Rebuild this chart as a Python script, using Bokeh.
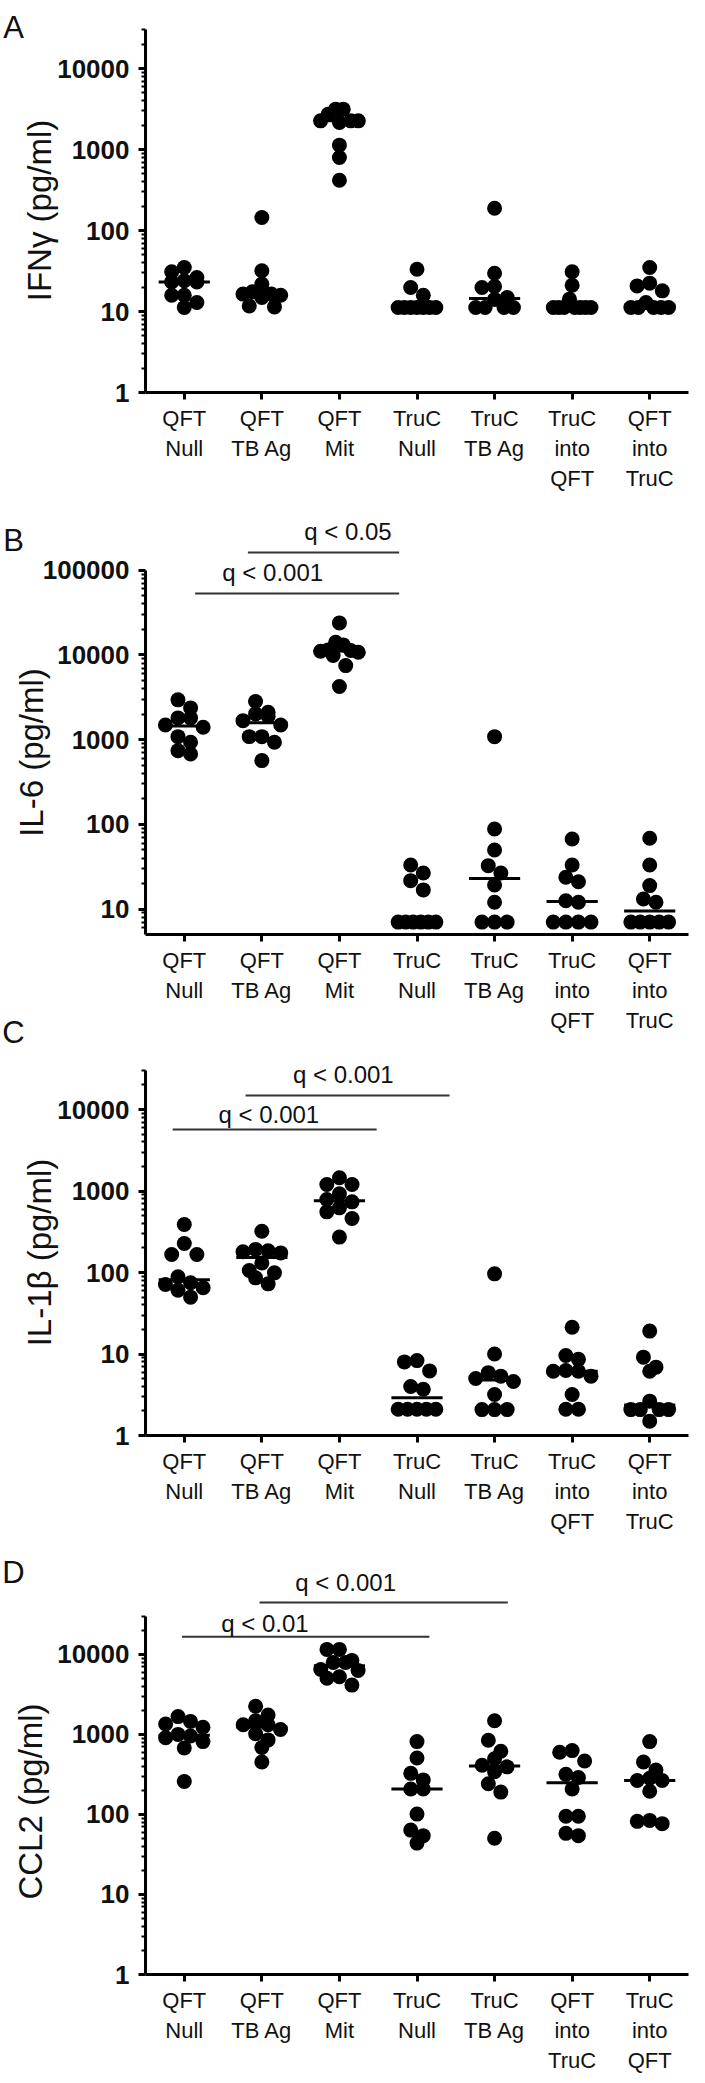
import numpy as np
from bokeh.plotting import figure
from bokeh.layouts import column
from bokeh.models import FixedTicker, PrintfTickFormatter, GridBox, Range1d
from bokeh.core.properties import value
from bokeh.embed import file_html
from bokeh.resources import INLINE

FONT = "Liberation Sans"

# ---------------- data ----------------
cats_abc = ["QFT\nNull", "QFT\nTB Ag", "QFT\nMit", "TruC\nNull", "TruC\nTB Ag",
            "TruC\ninto\nQFT", "QFT\ninto\nTruC"]
cats_d = ["QFT\nNull", "QFT\nTB Ag", "QFT\nMit", "TruC\nNull", "TruC\nTB Ag",
          "QFT\ninto\nTruC", "TruC\ninto\nQFT"]

# A: IFN-gamma (pg/ml)
ifng_qft_null = [34.9, 30.9, 26.3, 24.0, 23.2, 23.2, 15.9, 15.9, 12.9, 11.2]
ifng_qft_tbag = [144.6, 31.8, 21.8, 17.5, 16.4, 16.4, 15.9, 14.9, 11.7, 11.4]
ifng_qft_mit = [3148, 3148, 2729, 2259, 2259, 2259, 2154, 1131, 797, 418]
ifng_truc_null = [33.3, 19.8, 15.9, 11.2, 11.2, 11.2, 11.2, 11.2, 11.2, 11.2]
ifng_truc_tbag = [188.6, 29.7, 20.4, 19.8, 14.9, 14.1, 11.2, 11.2, 11.2, 11.2]
ifng_truc_into_qft = [30.9, 21.1, 14.2, 11.2, 11.2, 11.2, 11.2, 11.2, 11.2, 11.2]
ifng_qft_into_truc = [34.9, 22.4, 20.7, 18.0, 12.9, 11.2, 11.2, 11.2, 11.2, 11.2]

# B: IL-6 (pg/ml)
il6_qft_null = [2945, 2366, 1803, 1803, 1489, 1400, 1084, 931, 741, 677]
il6_qft_tbag = [2812, 2104, 2011, 1888, 1675, 1489, 1084, 1084, 931, 565]
il6_qft_mit = [23870, 14130, 13120, 11450, 11250, 11040, 10740, 9820, 7480, 4230]
il6_truc_null = [33.1, 26.6, 21.6, 16.8, 7, 7, 7, 7, 7, 7]
il6_truc_tbag = [1084, 88.1, 49.8, 32.5, 26.6, 19.2, 12.0, 7, 7, 7]
il6_truc_into_qft = [67.1, 33.1, 23.7, 21.0, 12.5, 12.0, 7, 7, 7, 7]
il6_qft_into_truc = [68.4, 33.1, 18.9, 13.1, 12.0, 7, 7, 7, 7, 7]

# C: IL-1beta (pg/ml)
il1b_qft_null = [388, 227, 166, 166, 88.5, 75, 71.2, 64.9, 60.7, 49.8]
il1b_qft_tbag = [321, 192, 185, 180, 174, 131, 106, 99, 86, 72.6]
il1b_qft_mit = [1452, 1202, 1202, 923, 787, 736, 621, 555, 460, 272]
il1b_truc_null = [8.3, 8.0, 6.2, 4.0, 3.7, 2.1, 2.1, 2.1, 2.1, 2.1]
il1b_truc_tbag = [96.3, 10.0, 5.9, 5.35, 5.0, 4.6, 3.18, 2.08, 2.08, 2.08]
il1b_truc_into_qft = [21.3, 9.6, 8.6, 6.28, 6.15, 6.15, 5.35, 3.18, 2.1, 2.1]
il1b_qft_into_truc = [19.1, 9.15, 6.9, 6.15, 2.64, 2.08, 2.08, 2.08, 2.08, 1.5]

# D: CCL2 (pg/ml)
ccl2_qft_null = [1668, 1452, 1346, 1227, 1000, 953, 910, 813, 675, 258]
ccl2_qft_tbag = [2250, 1750, 1479, 1321, 1321, 1149, 1018, 853, 687, 452]
ccl2_qft_mit = [11530, 11530, 8400, 7930, 7930, 6460, 6280, 5260, 5020, 4130]
ccl2_truc_null = [813, 506, 326, 270, 208, 208, 101, 63.7, 54.3, 43.8]
ccl2_truc_tbag = [1479, 845, 615, 496, 412, 393, 341, 242, 190, 50.4]
ccl2_qft_into_truc = [627, 598, 465, 317, 289, 208, 95, 95, 58, 54.3]
ccl2_truc_into_qft = [813, 452, 358, 283, 265, 265, 195, 84.2, 81.9, 76.7]

# significance brackets: (text, from category, to category, text centre category)
sig_b = [("q < 0.05", 1.82, 3.77, 3.11), ("q < 0.001", 1.14, 3.77, 2.14)]
sig_c = [("q < 0.001", 1.79, 4.42, 3.05), ("q < 0.001", 0.85, 3.48, 2.09)]
sig_d = [("q < 0.001", 1.97, 5.17, 3.08), ("q < 0.01", 0.97, 4.16, 2.04)]

ticks_a = [1, 10, 100, 1000, 10000]
ticks_b = [10, 100, 1000, 10000, 100000]
ticks_c = [1, 10, 100, 1000, 10000]
ticks_d = [1, 10, 100, 1000, 10000]

panel_letters = ["A", "B", "C", "D"]
axis_titles = ["IFN\u03b3 (pg/ml)", "IL-6 (pg/ml)", "IL-1\u03b2 (pg/ml)", "CCL2 (pg/ml)"]

# ---------------- layout (page pixels) ----------------
MARGIN = 8
FIG_W = 697
PAGE_H = 2083

panels = [
    dict(cats=cats_abc,
         groups=[ifng_qft_null, ifng_qft_tbag, ifng_qft_mit, ifng_truc_null,
                 ifng_truc_tbag, ifng_truc_into_qft, ifng_qft_into_truc],
         ticks=ticks_a, ylow=1, ytop=30000, sig=[], sig_line_y=[], sig_text_y=[],
         fig_top=8, fig_bot=505, frame_top=30, axis_y=400, decade=81.0,
         frame_left=153, frame_w=547, title_xy=(47, 218), letter_xy=(21, 35)),
    dict(cats=cats_abc,
         groups=[il6_qft_null, il6_qft_tbag, il6_qft_mit, il6_truc_null,
                 il6_truc_tbag, il6_truc_into_qft, il6_qft_into_truc],
         ticks=ticks_b, ylow=5, ytop=100000, sig=sig_b, sig_line_y=[560, 601], sig_text_y=[539, 580],
         fig_top=505, fig_bot=1045, frame_top=525, axis_y=942, decade=84.7,
         frame_left=153, frame_w=547, title_xy=(39, 760), letter_xy=(21, 548)),
    dict(cats=cats_abc,
         groups=[il1b_qft_null, il1b_qft_tbag, il1b_qft_mit, il1b_truc_null,
                 il1b_truc_tbag, il1b_truc_into_qft, il1b_qft_into_truc],
         ticks=ticks_c, ylow=1, ytop=30000, sig=sig_c, sig_line_y=[1103, 1137], sig_text_y=[1082, 1122],
         fig_top=1045, fig_bot=1545, frame_top=1065, axis_y=1443, decade=81.5,
         frame_left=153, frame_w=547, title_xy=(47, 1260), letter_xy=(21, 1040)),
    dict(cats=cats_d,
         groups=[ccl2_qft_null, ccl2_qft_tbag, ccl2_qft_mit, ccl2_truc_null,
                 ccl2_truc_tbag, ccl2_qft_into_truc, ccl2_truc_into_qft],
         ticks=ticks_d, ylow=1, ytop=30000, sig=sig_d, sig_line_y=[1611, 1646], sig_text_y=[1590, 1632],
         fig_top=1545, fig_bot=2083, frame_top=1575, axis_y=1993, decade=82.2,
         frame_left=143, frame_w=553, title_xy=(38, 1809), letter_xy=(21, 1580)),
]

DOT = 15        # dot diameter, px
ROW_H = 12      # points closer than this (vertically, px) share a row
STEP = 12.7     # horizontal spacing inside a row, px
MAX_W = 38      # widest row spread (centre to centre), px


def row_offsets(vals, decade):
    """Prism-like scatter: bin points into rows, centre each row."""
    y = np.log10(np.asarray(vals, float)) * decade
    order = list(np.argsort(-y, kind="stable"))
    rows, cur = [], [order[0]]
    for i in order[1:]:
        if y[cur[0]] - y[i] < ROW_H:
            cur.append(i)
        else:
            rows.append(cur)
            cur = [i]
    rows.append(cur)
    xs = np.zeros(len(y))
    for r in rows:
        n = len(r)
        s = STEP if n < 2 else min(STEP, MAX_W / (n - 1))
        pos = sorted([(k - (n - 1) / 2.0) * s for k in range(n)], key=lambda v: (abs(v), v))
        for idx, off in zip(r, pos):
            xs[idx] = off
    return xs


def make_fig(P):
    per_cat = P["frame_w"] / 7.0
    lo = np.log10(P["ylow"])
    hi = lo + (P["axis_y"] - P["frame_top"]) / P["decade"]

    def dy(py):
        return 10 ** (lo + (P["axis_y"] - py) / P["decade"])

    p = figure(width=FIG_W, height=P["fig_bot"] - P["fig_top"], title=None,
               x_range=(0.5, 7.5), y_range=(10 ** lo, 10 ** hi), y_axis_type="log",
               output_backend="svg", toolbar_location=None,
               min_border_left=P["frame_left"] - MARGIN,
               min_border_right=FIG_W - (P["frame_left"] - MARGIN) - P["frame_w"],
               min_border_top=P["frame_top"] - P["fig_top"],
               min_border_bottom=P["fig_bot"] - P["axis_y"])
    p.outline_line_color = None
    p.xgrid.visible = False
    p.ygrid.visible = False
    p.background_fill_color = "white"
    p.border_fill_color = "white"

    # x axis
    xa = p.xaxis[0]
    xa.ticker = FixedTicker(ticks=list(range(1, 8)), minor_ticks=[])
    xa.major_label_overrides = {i + 1: c for i, c in enumerate(P["cats"])}
    xa.axis_line_width = 3
    xa.major_tick_line_width = 3
    xa.major_tick_out = 7
    xa.major_tick_in = 0
    xa.minor_tick_out = 0
    xa.major_label_text_font = FONT
    xa.major_label_text_font_size = "22px"
    xa.major_label_text_color = "#111111"
    xa.major_label_standoff = 6

    # y axis
    ya = p.yaxis[0]
    minors = [k * 10 ** e for e in range(-1, 6) for k in range(2, 10)
              if P["ylow"] <= k * 10 ** e <= P["ytop"]]
    ya.ticker = FixedTicker(ticks=P["ticks"], minor_ticks=minors)
    ya.formatter = PrintfTickFormatter(format="%d")
    ya.bounds = (P["ylow"], P["ytop"])
    ya.axis_line_width = 3
    ya.major_tick_line_width = 3
    ya.major_tick_out = 7
    ya.major_tick_in = 0
    ya.minor_tick_line_width = 2
    ya.minor_tick_out = 4
    ya.minor_tick_in = 0
    ya.major_label_text_font = FONT
    ya.major_label_text_font_style = "bold"
    ya.major_label_text_font_size = "26px"
    ya.major_label_text_color = "#111111"
    ya.major_label_standoff = 9

    # dots + medians
    xs, ys, mx0, mx1, my = [], [], [], [], []
    for i, g in enumerate(P["groups"]):
        off = row_offsets(g, P["decade"])
        xs += list(i + 1 + off / per_cat)
        ys += list(g)
        m = float(np.median(g))
        mx0.append(i + 1 - 0.33)
        mx1.append(i + 1 + 0.33)
        my.append(m)
    p.scatter(xs, ys, size=DOT, fill_color="black", line_color=None)
    p.segment(x0=mx0, x1=mx1, y0=my, y1=my, line_width=3, line_color="black")

    # significance brackets
    for (txt, a, b, tx), ly, ty in zip(P["sig"], P["sig_line_y"], P["sig_text_y"]):
        p.segment(x0=[a], x1=[b], y0=[dy(ly)], y1=[dy(ly)], line_width=2, line_color="#333333")
        p.text(x=[tx], y=[dy(ty)], text=[txt], text_font=value(FONT), text_font_size="24px",
               text_align="center", text_baseline="middle", text_color="#111111")
    return p


figs = [make_fig(P) for P in panels]
stack = column(*figs, spacing=0)

# transparent overlay (page-pixel coordinates) carrying panel letters and y-axis titles
ov = figure(width=FIG_W, height=PAGE_H - MARGIN, title=None,
            x_range=Range1d(MARGIN, MARGIN + FIG_W), y_range=Range1d(-PAGE_H, -MARGIN),
            output_backend="svg", toolbar_location=None,
            x_axis_location=None, y_axis_location=None,
            min_border=0, min_border_left=0, min_border_right=0,
            min_border_top=0, min_border_bottom=0)
ov.outline_line_color = None
ov.background_fill_color = None
ov.border_fill_color = None
ov.grid.visible = False

ov.text(x=[P["letter_xy"][0] for P in panels], y=[-P["letter_xy"][1] for P in panels],
        text=panel_letters, text_font=value(FONT), text_font_size="31px",
        text_align="center", text_baseline="alphabetic", text_color="#111111")
ov.text(x=[P["title_xy"][0] for P in panels], y=[-P["title_xy"][1] for P in panels],
        text=axis_titles, angle=np.pi / 2, text_font=value(FONT), text_font_size="33px",
        text_align="center", text_baseline="middle", text_color="#111111")

layout = GridBox(children=[(stack, 0, 0), (ov, 0, 0)])
open("out.html", "w").write(file_html(layout, INLINE))
